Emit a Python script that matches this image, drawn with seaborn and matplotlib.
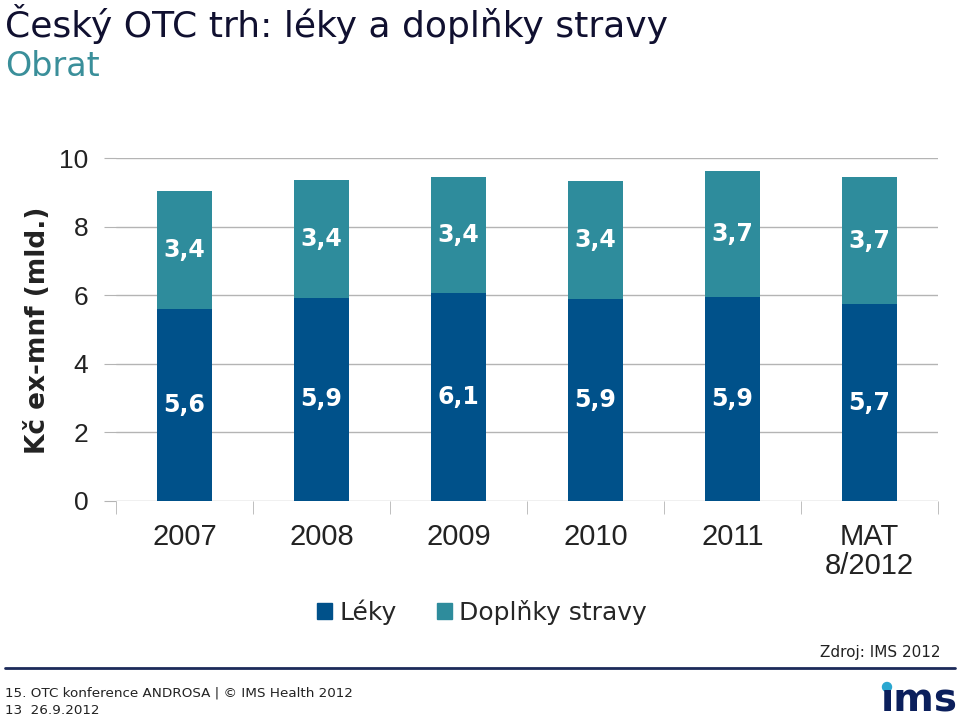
#!/usr/bin/env python3

import matplotlib
matplotlib.use("Agg")
import matplotlib.pyplot as plt
import matplotlib.patches as mpatches
import pandas as pd
import seaborn as sns

years = ["2007", "2008", "2009", "2010", "2011", "MAT\n8/2012"]
leky = [5.60, 5.92, 6.06, 5.89, 5.94, 5.74]
doplnky = [3.44, 3.44, 3.39, 3.44, 3.67, 3.70]
series_names = ["Léky", "Doplňky stravy"]

c_leky = "#00518a"
c_dopl = "#2e8c9c"
navy = "#0b1f5c"
grid_c = "#b4b4b4"


def configure_seaborn():
  sns.set_style("white")
  plt.rcParams['font.family'] = ['Liberation Sans', 'DejaVu Sans']


def comma(v):
  return ("%.1f" % v).replace(".", ",")


def main():
  configure_seaborn()
  df = pd.DataFrame({"year": years, "leky": leky, "doplnky": doplnky})

  fig = plt.figure(figsize=(9.6, 7.23), dpi=100)
  ax = fig.add_axes([116 / 960, 1 - 501 / 723, 822 / 960, 343 / 723])

  sns.barplot(data=df, x="year", y="leky", color=c_leky, width=0.4,
              saturation=1, ax=ax, order=years, linewidth=0)
  sns.barplot(data=df, x="year", y="doplnky", color=c_dopl, width=0.4,
              saturation=1, ax=ax, order=years, linewidth=0,
              bottom=df["leky"].values)

  for cont in ax.containers:
    ax.bar_label(cont, labels=[comma(v) for v in cont.datavalues],
                 label_type="center", color="white", fontsize=17,
                 fontweight="bold", family="DejaVu Sans")

  ax.set_ylim(0, 10)
  ax.set_xlim(-0.5, 5.5)
  ax.set_yticks(range(0, 11, 2))
  ax.yaxis.grid(True, color=grid_c, lw=1)
  ax.set_axisbelow(True)
  for s in ax.spines.values():
    s.set_visible(False)
  ax.set_xlabel("")
  ax.set_ylabel("")
  ax.tick_params(axis="y", length=9, color=grid_c, labelsize=19, pad=11,
                 left=True, labelcolor="#222222")
  ax.set_xticks([i - 0.5 for i in range(7)], minor=True)
  ax.tick_params(axis="x", which="minor", length=9, color=grid_c, bottom=True)
  ax.tick_params(axis="x", which="major", length=0, labelsize=21, pad=16,
                 labelcolor="#222222")
  for lbl in ax.get_xticklabels():
    lbl.set_linespacing(1.05)

  fig.text(38 / 960, 1 - 330 / 723, "Kč ex-mnf (mld.)", rotation=90,
           ha="center", va="center", fontsize=19, fontweight="bold",
           family="DejaVu Sans", color="#222222")

  fig.text(5 / 960, 1 - 24 / 723, "Český OTC trh: léky a doplňky stravy",
           fontsize=26, family="DejaVu Sans", color="#101030", va="center")
  fig.text(5 / 960, 1 - 67 / 723, "Obrat", fontsize=24,
           family="DejaVu Sans", color="#3a8f9a", va="center")

  handles = [mpatches.Patch(color=c_leky), mpatches.Patch(color=c_dopl)]
  fig.legend(handles, series_names, loc="center", ncol=2,
             bbox_to_anchor=(482 / 960, 1 - 612 / 723), frameon=False,
             prop={"family": "DejaVu Sans", "size": 18},
             handlelength=0.6, handleheight=0.6, handletextpad=0.3,
             columnspacing=1.6)

  fig.text(940 / 960, 1 - 653 / 723, "Zdroj: IMS 2012", ha="right",
           va="center", fontsize=11, family="DejaVu Sans", color="#222222")
  fig.add_artist(plt.Line2D([5 / 960, 955 / 960], [1 - 668 / 723] * 2,
                            color="#1c2a5a", lw=2))
  fig.text(5 / 960, 1 - 693 / 723,
           "15. OTC konference ANDROSA | © IMS Health 2012",
           va="center", fontsize=9.7, family="DejaVu Sans", color="#222222")
  fig.text(5 / 960, 1 - 710 / 723, "13  26.9.2012",
           va="center", fontsize=9.7, family="DejaVu Sans", color="#222222")

  fig.text(919 / 960, 1 - 712 / 723, "ıms", ha="center", va="baseline",
           fontsize=28, fontweight="bold", family="DejaVu Sans", color=navy)
  fig.add_artist(mpatches.Ellipse((887 / 960, 1 - 687 / 723), 9 / 960,
                                  9 / 723, color="#2aa7d0"))

  fig.savefig("out.png", dpi=100)
  plt.close(fig)


if __name__ == '__main__':
  main()
